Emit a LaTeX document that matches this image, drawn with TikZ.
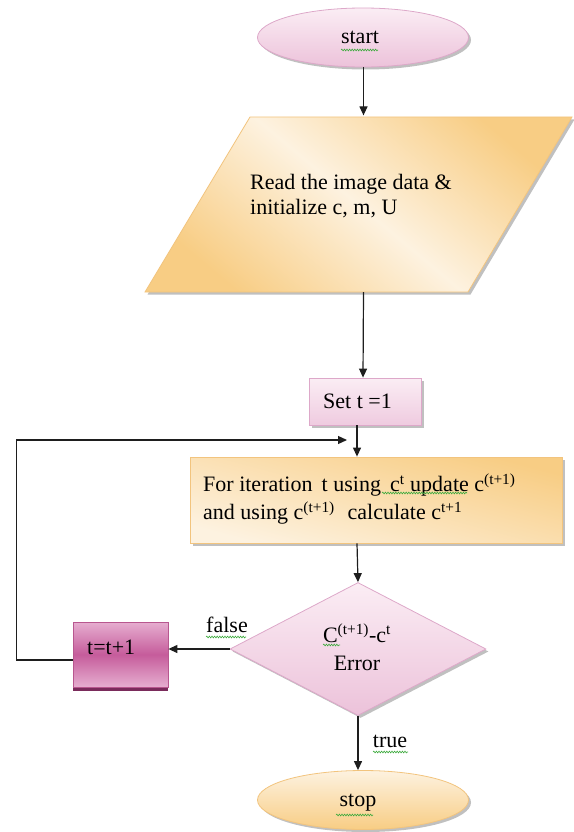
\documentclass[tikz,border=0pt]{standalone}
\usepackage{fontspec}
\setmainfont{Liberation Serif}
\usetikzlibrary{arrows.meta,shapes.geometric,shadows,decorations.pathmorphing,calc}

\definecolor{pinkA}{HTML}{FBEDF4}
\definecolor{pinkB}{HTML}{ECC2DA}
\definecolor{pinkline}{HTML}{DDA8C9}
\definecolor{orangeA}{HTML}{F8CD84}
\definecolor{orangeB}{HTML}{FDF2E0}
\definecolor{orangeline}{HTML}{F2C47E}
\definecolor{magA}{HTML}{E6AED0}
\definecolor{magB}{HTML}{C65C9B}
\definecolor{magline}{HTML}{B8578F}
\definecolor{magshadow}{HTML}{7A2B5B}
\definecolor{linecol}{HTML}{1E1E1E}
\definecolor{squigcol}{HTML}{3DAA3D}

\begin{document}
\begin{tikzpicture}[x=1pt,y=-1pt,
  txt/.style={font=\fontsize{22}{25}\selectfont, text=black, inner sep=0pt},
  flow/.style={draw=linecol, line width=1.2pt, -{Triangle[length=9pt,width=8pt]}},
  softshadow/.style={drop shadow={shadow xshift=2.5pt,shadow yshift=-2.5pt,fill=black!45,opacity=0.55}},
  pinkterm/.style={ellipse, draw=pinkline, line width=0.8pt, top color=pinkA, bottom color=pinkB,
    minimum width=211pt, minimum height=59pt, inner sep=0pt, softshadow},
  orangeterm/.style={ellipse, draw=orangeline, line width=0.8pt, top color=orangeB, bottom color=orangeA,
    minimum width=211pt, minimum height=59pt, inner sep=0pt, softshadow},
  pinkbox/.style={rectangle, draw=pinkline, line width=0.8pt, top color=pinkA, bottom color=pinkB!85,
    inner sep=0pt, softshadow},
  orangebox/.style={rectangle, draw=orangeline, line width=0.8pt, top color=orangeA, bottom color=orangeB,
    shading angle=-15, inner sep=0pt, softshadow},
  decision/.style={diamond, draw=pinkline, line width=0.8pt, top color=pinkA, bottom color=pinkB,
    inner sep=0pt, softshadow},
  magbox/.style={rectangle, draw=magline, line width=0.8pt, top color=magA, bottom color=magA, middle color=magB,
    inner sep=0pt, drop shadow={shadow xshift=0pt,shadow yshift=-3.5pt,fill=magshadow,opacity=1}},
  squiggle/.style={draw=squigcol, line width=0.6pt, decorate,
    decoration={snake, amplitude=0.9pt, segment length=2.6pt}}
]
\useasboundingbox (0,0) rectangle (573,832);

% main column used by the vertical connectors
\coordinate (col) at (357,0);

% terminal: start
\node[pinkterm] (start) at (363,37.5) {};
\node[txt] (starttext) at (360,37) {start};

% input / initialisation (parallelogram)
\path[draw=orangeline, line width=0.8pt, top color=orangeA, bottom color=orangeA, middle color=orangeB,
      shading angle=-40, softshadow]
  (250,117) -- (572,117) -- (468,292) -- (145,292) -- cycle;
\node[minimum width=323pt, minimum height=175pt, inner sep=0pt] (read) at (358.5,204.5) {};
\node[txt, anchor=west, align=left] (readtext) at (250,196)
  {Read the image data \&\\initialize c, m, U};

% t = 1
\node[pinkbox, minimum width=112pt, minimum height=47pt] (set) at (365,401.5) {};
\node[txt, anchor=base west] (settext) at (323,408) {Set t =1};

% iteration step
\node[orangebox, minimum width=372pt, minimum height=86pt] (iter) at (376,500) {};
\node[txt, anchor=west, align=left] (itertext) at (203,499)
  {For iteration\, t using\, c\textsuperscript{t} update c\textsuperscript{(t+1)}\\[3pt]
   and using c\textsuperscript{(t+1)}\,\, calculate c\textsuperscript{t+1}};

% error test
\node[decision, minimum width=256pt, minimum height=133pt] (dec) at (358,649) {};
\node[txt] (dectop) at (357,633) {C\textsuperscript{(t+1)}-c\textsuperscript{t}};
\node[txt] (decbot) at (357,663) {Error};

% t = t + 1
\node[magbox, minimum width=95pt, minimum height=65pt] (inc) at (120.5,654.5) {};
\node[txt, anchor=base west] (inctext) at (87,654) {t=t+1};

% terminal: stop
\node[orangeterm] (stop) at (363,800) {};
\node[txt] (stoptext) at (358,803) {stop};

% connectors
\draw[flow] (start.south -| read.north) ++(5,0) -- ++(0,48);
\draw[flow] ($(read.south)+(5,0)$) -- ($(set.north)+(-2,0)$);
\draw[flow] (set.south -| col) -- (iter.north -| col);
\draw[flow] (iter.south -| col) -- (dec.north);
\draw[flow] (dec.west) -- (dec.west -| inc.east);
\coordinate (loopend) at (347,440);
\draw[flow] ($(inc.west)+(0,5.5)$) -- ++(-56,0) |- (loopend);
\draw[flow] (dec.south) -- (dec.south |- stop.north);

% branch labels
\node[txt] (falselbl) at (227,625) {false};
\node[txt] (truelbl) at (390,741) {true};

% proofing marks under words
\draw[squiggle] (341,50) -- (378,50);
\draw[squiggle] (382,493) -- (467,493);
\draw[squiggle] (206,637) -- (246,637);
\draw[squiggle] (323,645) -- (340,645);
\draw[squiggle] (373,752) -- (408,752);
\draw[squiggle] (336,815) -- (373,815);
\end{tikzpicture}
\end{document}
